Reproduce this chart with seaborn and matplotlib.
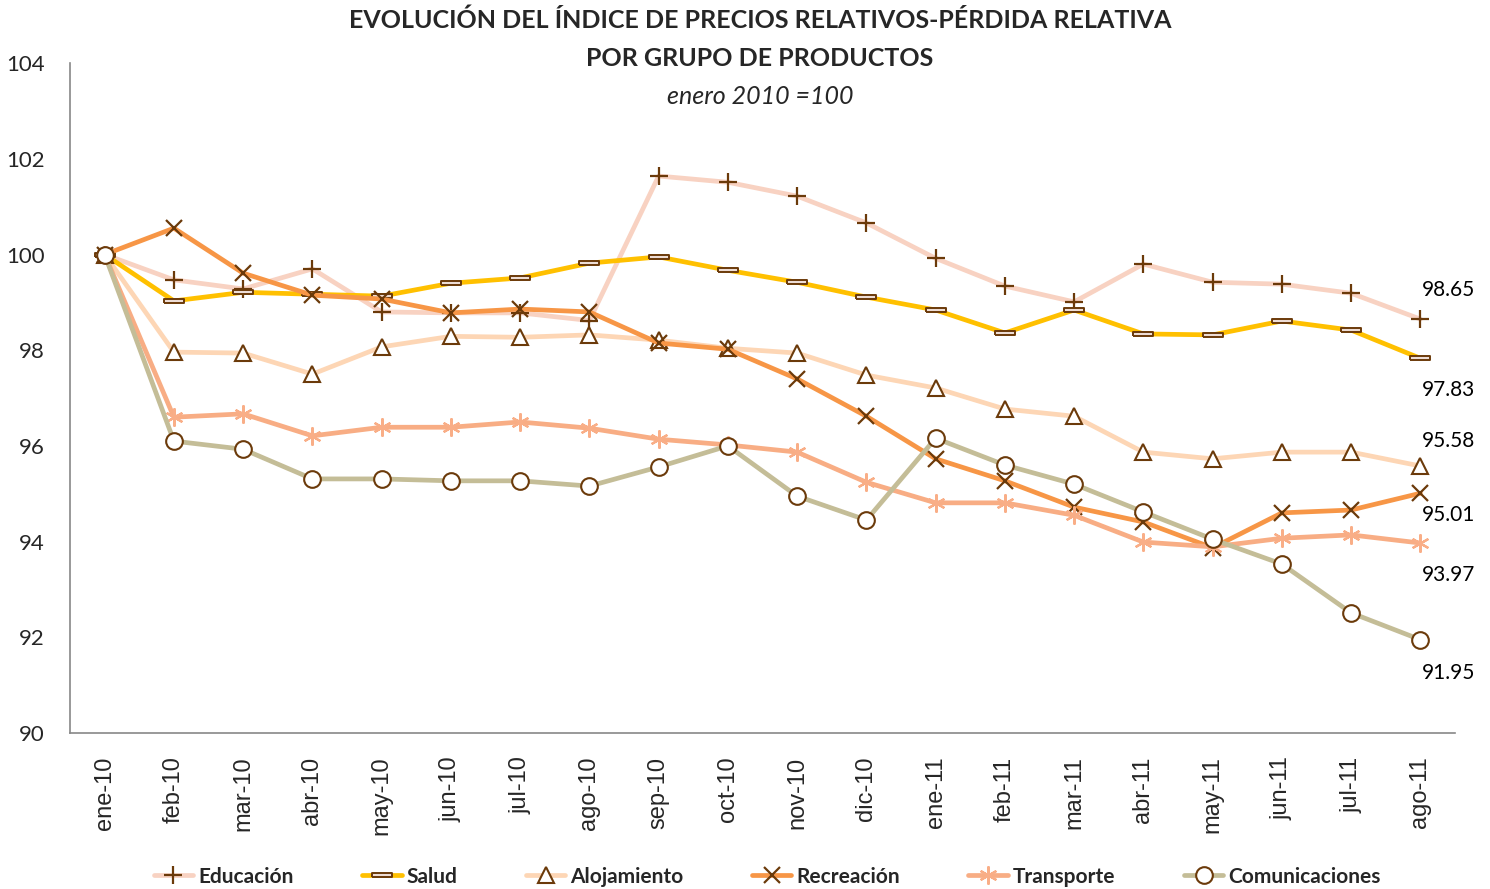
"""Relative price index by product group, Jan 2010 = 100."""

import matplotlib
matplotlib.use("Agg")
import matplotlib.pyplot as plt
import pandas as pd
import seaborn as sns

months = ["ene-10", "feb-10", "mar-10", "abr-10", "may-10", "jun-10", "jul-10",
          "ago-10", "sep-10", "oct-10", "nov-10", "dic-10", "ene-11", "feb-11",
          "mar-11", "abr-11", "may-11", "jun-11", "jul-11", "ago-11"]

educacion = [100.00, 99.47, 99.28, 99.70, 98.80, 98.78, 98.78, 98.62, 101.64, 101.51,
             101.22, 100.66, 99.92, 99.34, 99.01, 99.80, 99.42, 99.38, 99.19, 98.65]
salud = [100.00, 99.03, 99.21, 99.17, 99.13, 99.40, 99.51, 99.82, 99.95, 99.67,
         99.42, 99.11, 98.84, 98.36, 98.84, 98.34, 98.32, 98.61, 98.42, 97.83]
alojamiento = [100.00, 97.96, 97.94, 97.50, 98.07, 98.29, 98.27, 98.32, 98.21, 98.04,
               97.94, 97.48, 97.21, 96.77, 96.62, 95.87, 95.73, 95.87, 95.87, 95.58]
recreacion = [100.00, 100.55, 99.61, 99.15, 99.07, 98.78, 98.86, 98.80, 98.15, 98.02,
              97.40, 96.62, 95.73, 95.27, 94.72, 94.41, 93.87, 94.60, 94.66, 95.01]
transporte = [100.00, 96.60, 96.67, 96.21, 96.39, 96.39, 96.50, 96.37, 96.14, 96.02,
              95.87, 95.24, 94.81, 94.81, 94.55, 93.99, 93.89, 94.07, 94.14, 93.97]
comunicaciones = [100.00, 96.10, 95.93, 95.31, 95.31, 95.27, 95.27, 95.16, 95.56, 96.00,
                  94.95, 94.45, 96.16, 95.60, 95.20, 94.62, 94.05, 93.53, 92.51, 91.95]

series_names = ["Educación", "Salud", "Alojamiento", "Recreación", "Transporte", "Comunicaciones"]
series_values = [educacion, salud, alojamiento, recreacion, transporte, comunicaciones]
end_labels = ["98.65", "97.83", "95.58", "95.01", "93.97", "91.95"]

brown = "#6B3A0A"
rect_marker = [(-1, -0.25), (1, -0.25), (1, 0.25), (-1, 0.25), (-1, -0.25)]
styles = {
    "Educación": dict(color="#F8D2C2", marker="+", ms=13, mec=brown, mfc=brown, mew=1.6),
    "Salud": dict(color="#FFC000", marker=rect_marker, ms=14, mec=brown, mfc="#EEDDD5", mew=1.4),
    "Alojamiento": dict(color="#FDD6B5", marker="^", ms=12, mec=brown, mfc="white", mew=1.5),
    "Recreación": dict(color="#F79646", marker="x", ms=12, mec=brown, mfc=brown, mew=1.6),
    "Transporte": dict(color="#F8AD84", marker=(6, 2, 0), ms=13, mec="#F9AE87", mfc="#F9AE87", mew=1.6),
    "Comunicaciones": dict(color="#C4BD97", marker="o", ms=12, mec=brown, mfc="white", mew=1.5),
}
# label offsets (points) from the last point of each series
label_offsets = [(20, 21), (20, -23), (20, 18), (20, -16), (20, -23), (20, -24)]

sns.set_style("white")
plt.rcParams["font.family"] = ["Lato", "DejaVu Sans"]

fig = plt.figure(figsize=(14.9, 8.89), dpi=100)
ax = fig.add_axes([0.047, 0.1755, 0.9295, 0.7535])

x_pos = list(range(len(months)))
for name, values in zip(series_names, series_values):
    df = pd.DataFrame({"x": x_pos, "y": values})
    st = styles[name]
    sns.lineplot(data=df, x="x", y="y", ax=ax, label=name, color=st["color"], lw=3.4,
                 marker=st["marker"], markersize=st["ms"], markeredgecolor=st["mec"],
                 markerfacecolor=st["mfc"], markeredgewidth=st["mew"], legend=False)

for values, text, off in zip(series_values, end_labels, label_offsets):
    ax.annotate(text, xy=(x_pos[-1], values[-1]), xytext=off, textcoords="offset points",
                ha="center", va="center", fontsize=15, color="black")

ax.set_xlim(-0.5, len(months) - 0.5)
ax.set_ylim(90, 104)
ax.set_yticks(range(90, 105, 2))
ax.set_xticks(x_pos)
ax.set_xticklabels(months, rotation=90, fontsize=17, family="Liberation Sans")
ax.set_xticks([i - 0.5 for i in range(len(months) + 1)], minor=True)
ax.tick_params(axis="x", which="major", length=0, pad=17)
ax.tick_params(axis="x", which="minor", length=6, color="#888888", width=1.2, direction="out")
ax.tick_params(axis="y", length=6, color="#888888", width=1.2, direction="out",
               labelsize=16, pad=12)
ax.set_xlabel("")
ax.set_ylabel("")
for side in ["top", "right"]:
    ax.spines[side].set_visible(False)
for side in ["left", "bottom"]:
    ax.spines[side].set_color("#888888")
    ax.spines[side].set_linewidth(1.2)

fig.text(0.51, 0.977, "EVOLUCIÓN DEL ÍNDICE DE PRECIOS RELATIVOS-PÉRDIDA RELATIVA",
         ha="center", va="center", fontsize=18, fontweight="bold")
fig.text(0.51, 0.934, "POR GRUPO DE PRODUCTOS", ha="center", va="center",
         fontsize=18, fontweight="bold")
fig.text(0.51, 0.892, "enero 2010 =100", ha="center", va="center",
         fontsize=18, fontstyle="italic")

handles, labels = ax.get_legend_handles_labels()
fig.legend(handles, labels, loc="center", bbox_to_anchor=(0.515, 0.014), ncol=6,
           frameon=False, prop={"size": 15, "weight": "bold"}, handlelength=1.9,
           handletextpad=0.25, columnspacing=3.27)

fig.savefig("out.png", dpi=100)
